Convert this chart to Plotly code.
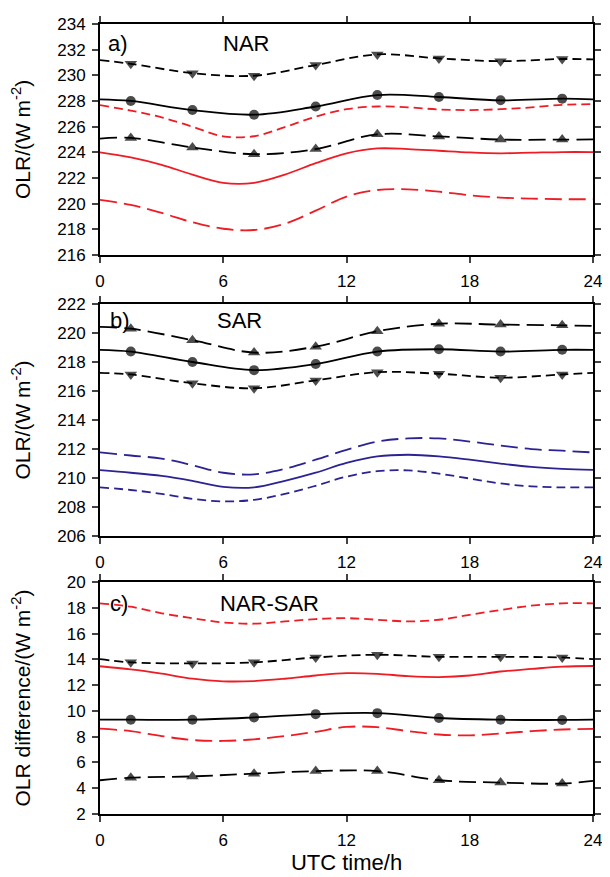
import plotly.graph_objects as go

# ---------------- data ----------------
# 3-hourly black series (with end values at 0 h and 24 h)
hours_black = [0, 1.5, 4.5, 7.5, 10.5, 13.5, 16.5, 19.5, 22.5, 24]
# colored series read every 1.5 h
hours_color = [0, 1.5, 3, 4.5, 6, 7.5, 9, 10.5, 12, 13.5, 15, 16.5, 18, 19.5, 21, 22.5, 24]

# Panel a) NAR
nar_down = [231.19, 230.90, 230.17, 229.97, 230.80, 231.63, 231.32, 231.10, 231.27, 231.24]
nar_circle = [228.13, 228.00, 227.29, 226.93, 227.57, 228.46, 228.31, 228.05, 228.18, 228.13]
nar_up = [225.06, 225.12, 224.38, 223.85, 224.25, 225.40, 225.24, 224.99, 224.99, 225.00]
nar_red_upper = [227.67, 227.25, 226.72, 226.00, 225.24, 225.25, 225.96, 226.78, 227.36, 227.57,
                 227.50, 227.34, 227.29, 227.36, 227.50, 227.70, 227.75]
nar_red_mid = [223.99, 223.60, 223.02, 222.26, 221.62, 221.62, 222.26, 223.15, 223.92, 224.30,
               224.25, 224.12, 223.99, 223.92, 223.97, 224.02, 224.02]
nar_red_lower = [220.29, 219.90, 219.27, 218.55, 218.04, 217.94, 218.43, 219.45, 220.55, 221.06,
                 221.11, 220.93, 220.65, 220.47, 220.39, 220.34, 220.34]

# Panel b) SAR
sar_up = [220.42, 220.30, 219.51, 218.65, 219.06, 220.12, 220.64, 220.58, 220.53, 220.49]
sar_circle = [218.84, 218.72, 218.00, 217.44, 217.86, 218.72, 218.88, 218.72, 218.84, 218.84]
sar_down = [217.25, 217.14, 216.53, 216.19, 216.73, 217.30, 217.19, 216.92, 217.14, 217.25]
sar_blue_upper = [211.76, 211.55, 211.33, 210.88, 210.36, 210.25, 210.63, 211.26, 211.94, 212.51,
                  212.73, 212.73, 212.51, 212.24, 211.99, 211.88, 211.76]
sar_blue_mid = [210.54, 210.36, 210.14, 209.80, 209.39, 209.35, 209.80, 210.36, 211.04, 211.49,
                211.60, 211.49, 211.26, 210.99, 210.76, 210.63, 210.56]
sar_blue_lower = [209.35, 209.17, 208.90, 208.56, 208.38, 208.49, 208.90, 209.46, 210.09, 210.47,
                  210.52, 210.30, 209.96, 209.62, 209.42, 209.35, 209.35]

# Panel c) NAR-SAR
diff_down = [14.02, 13.77, 13.69, 13.77, 14.15, 14.36, 14.20, 14.20, 14.15, 14.02]
diff_circle = [9.32, 9.32, 9.32, 9.50, 9.75, 9.83, 9.45, 9.32, 9.30, 9.32]
diff_up = [4.62, 4.82, 4.92, 5.13, 5.33, 5.33, 4.62, 4.44, 4.36, 4.57]
diff_red_upper = [18.35, 18.09, 17.58, 17.20, 16.87, 16.77, 16.95, 17.13, 17.20, 17.08,
                  16.95, 17.08, 17.46, 17.84, 18.17, 18.35, 18.35]
diff_red_mid = [13.47, 13.22, 12.89, 12.50, 12.30, 12.32, 12.50, 12.75, 12.93, 12.88,
                12.70, 12.63, 12.75, 13.06, 13.26, 13.44, 13.49]
diff_red_lower = [8.63, 8.43, 8.05, 7.74, 7.67, 7.80, 8.05, 8.38, 8.76, 8.74,
                  8.43, 8.17, 8.10, 8.25, 8.43, 8.56, 8.61]

x_ticks = [0, 6, 12, 18, 24]
y_ranges = [(216, 234), (206, 222), (2, 20)]
y_titles = ["OLR/(W m<sup>-2</sup>)", "OLR/(W m<sup>-2</sup>)", "OLR difference/(W m<sup>-2</sup>)"]
panel_labels = ["a)", "b)", "c)"]
region_names = ["NAR", "SAR", "NAR-SAR"]
label_pos = [(0.3, 232.45), (0.4, 220.85), (0.4, 18.35)]
name_pos = [(7.1, 232.45), (6.8, 220.85), (8.25, 18.35)]

# ---------------- styling ----------------
RED = "#ee1c24"
BLUE = "#2b2392"
SHORT = "9px,5px"
LONG = "17px,7px"
FONT = "Liberation Sans, Arial, Helvetica, sans-serif"

fig = go.Figure()


def msizes(n, s):
    return [0] + [s] * (n - 2) + [0]


def black(series, symbol, dash, axis):
    size = 10 if symbol == "circle" else 11
    fig.add_trace(go.Scatter(
        x=hours_black, y=series, mode="lines+markers",
        line=dict(color="black", width=1.8, dash=dash, shape="spline", smoothing=1.0),
        marker=dict(symbol=symbol, size=msizes(len(series), size), color="black", line=dict(width=0)),
        xaxis="x" + axis, yaxis="y" + axis, showlegend=False, hoverinfo="x+y"))


def colored(series, color, dash, axis):
    fig.add_trace(go.Scatter(
        x=hours_color, y=series, mode="lines",
        line=dict(color=color, width=1.8, dash=dash, shape="spline", smoothing=1.0),
        xaxis="x" + axis, yaxis="y" + axis, showlegend=False, hoverinfo="x+y"))


# panel a
colored(nar_red_upper, RED, SHORT, "")
colored(nar_red_mid, RED, "solid", "")
colored(nar_red_lower, RED, LONG, "")
black(nar_down, "triangle-down", SHORT, "")
black(nar_circle, "circle", "solid", "")
black(nar_up, "triangle-up", LONG, "")
# panel b
colored(sar_blue_upper, BLUE, LONG, "2")
colored(sar_blue_mid, BLUE, "solid", "2")
colored(sar_blue_lower, BLUE, SHORT, "2")
black(sar_up, "triangle-up", LONG, "2")
black(sar_circle, "circle", "solid", "2")
black(sar_down, "triangle-down", SHORT, "2")
# panel c
colored(diff_red_upper, RED, SHORT, "3")
colored(diff_red_mid, RED, "solid", "3")
colored(diff_red_lower, RED, LONG, "3")
black(diff_down, "triangle-down", SHORT, "3")
black(diff_circle, "circle", "solid", "3")
black(diff_up, "triangle-up", LONG, "3")

# page body has an 8px margin, so the figure is 8px smaller than the window
OFF = 8
W, H = 610 - OFF, 877 - OFF
top_m, bot_m = 15 - OFF, 877 - 819
left_m, right_m = 100 - OFF, 610 - 593
plot_h = H - top_m - bot_m
panel_px = [(15, 250), (300, 536), (583, 819)]  # window pixel rows of each panel


def dom(t, b):
    t -= OFF
    b -= OFF
    return [(H - bot_m - b) / plot_h, (H - bot_m - t) / plot_h]


layout = dict(
    width=W, height=H,
    margin=dict(l=left_m, r=right_m, t=top_m, b=bot_m),
    paper_bgcolor="white", plot_bgcolor="white",
    font=dict(family=FONT, size=17, color="black"),
    showlegend=False,
)

names = ["", "2", "3"]
standoffs = [24, 24, 33]
for i, n in enumerate(names):
    d = dom(*panel_px[i])
    xa = dict(range=[0, 24], tickvals=x_ticks, ticks="outside", ticklen=6, tickwidth=1.5,
              showline=True, linecolor="black", linewidth=1.8, mirror="ticks",
              showgrid=False, zeroline=False, anchor="y" + n, ticklabelstandoff=4,
              tickfont=dict(size=17), domain=[0, 1])
    if n == "3":
        xa["title"] = dict(text="UTC time/h", font=dict(size=22), standoff=4)
    ya = dict(range=list(y_ranges[i]), dtick=2, ticks="outside", ticklen=6, tickwidth=1.5,
              showline=True, linecolor="black", linewidth=1.8, mirror="ticks",
              showgrid=False, zeroline=False, anchor="x" + n, domain=d, ticklabelstandoff=3,
              tickfont=dict(size=17),
              title=dict(text=y_titles[i], font=dict(size=21), standoff=standoffs[i]))
    layout["xaxis" + n] = xa
    layout["yaxis" + n] = ya

fig.update_layout(**layout)

for i, n in enumerate(names):
    fig.add_annotation(x=label_pos[i][0], y=label_pos[i][1], xref="x" + n, yref="y" + n,
                       text=panel_labels[i], showarrow=False, xanchor="left", yanchor="middle",
                       font=dict(size=22))
    fig.add_annotation(x=name_pos[i][0], y=name_pos[i][1], xref="x" + n, yref="y" + n,
                       text=region_names[i], showarrow=False, xanchor="center", yanchor="middle",
                       font=dict(size=22))

fig.write_html("out.html")
